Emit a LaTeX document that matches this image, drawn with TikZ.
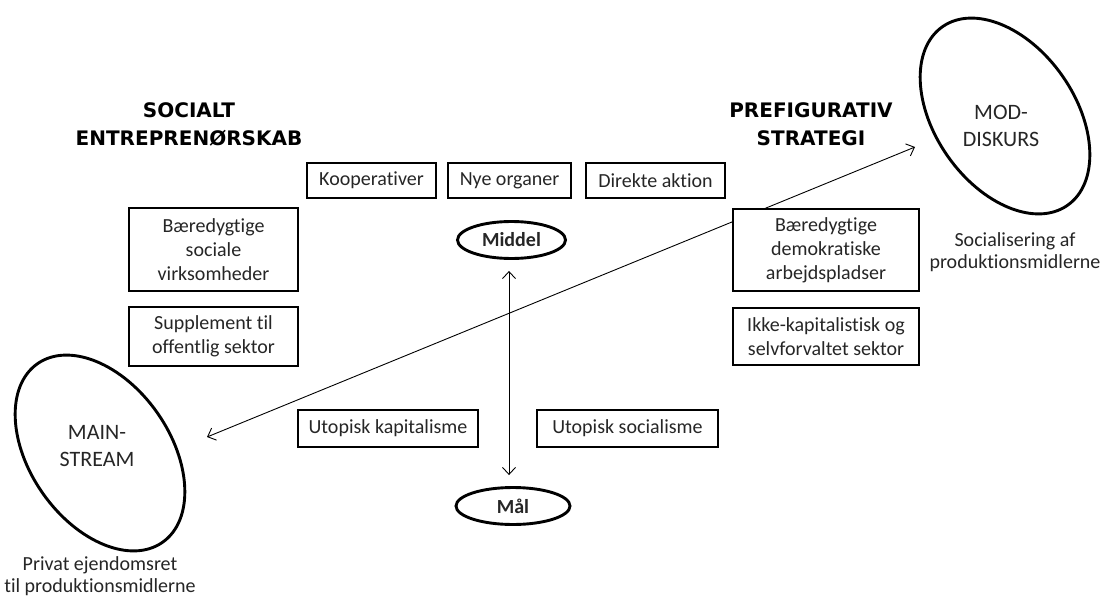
\documentclass[tikz,border=0pt]{standalone}
\usepackage{fontspec}
\usetikzlibrary{shapes.geometric,arrows.meta}
\newfontfamily\calfont{Carlito}[Ligatures={NoCommon}]
\newfontfamily\dvfont{DejaVu Sans}
\definecolor{txt}{HTML}{262626}
\begin{document}
\begin{tikzpicture}[x=1pt,y=-1pt,
  box/.style={draw=black, line width=2.9pt, fill=white, align=center, inner sep=0pt,
    text=txt, font=\calfont\fontsize{20}{24}\selectfont},
  oval/.style={ellipse, draw=black, line width=2.9pt, fill=white, inner sep=0pt,
    text=txt, font=\calfont\bfseries\fontsize{20}{24}\selectfont},
  bigoval/.style={ellipse, draw=black, line width=2.9pt, inner sep=0pt, rotate=35,
    minimum width=140pt, minimum height=218pt},
  bigtxt/.style={align=center, inner sep=0pt, text=txt, font=\calfont\fontsize{22}{27}\selectfont},
  lbl/.style={align=center, inner sep=0pt, text=txt, font=\calfont\fontsize{20}{22}\selectfont},
  head/.style={align=center, inner sep=0pt, text=black, font=\dvfont\bfseries\fontsize{20}{28.5}\selectfont},
  arr/.style={line width=0.9pt, {Straight Barb[length=7pt,width=13pt]}-{Straight Barb[length=7pt,width=13pt]}}
]
\useasboundingbox (0,0) rectangle (1102,599);
\fill[white] (0,0) rectangle (1102,599);

% long diagonal arrow (drawn first, so boxes cover it)
\coordinate (la) at (207,437);
\coordinate (lb) at (915,147);
\draw[arr] (la) -- (lb);

% headings
\node[head] (hsoc) at (189,124.5) {SOCIALT\\ENTREPRENØRSKAB};
\node[head] (hpre) at (811,124) {PREFIGURATIV\\STRATEGI};

% big ellipses
\node[bigoval] (ms) at (100,453) {};
\node[bigtxt] (mst) at (97,446) {MAIN-\\STREAM};
\node[lbl] (mslbl) at (100,576) {Privat ejendomsret\\til produktionsmidlerne};

\node[bigoval] (md) at (1005,116) {};
\node[bigtxt] (mdt) at (1001,126) {MOD-\\DISKURS};
\node[lbl] (mdlbl) at (1015,252) {Socialisering af\\produktionsmidlerne};

% top row boxes
\node[box, minimum width=129, minimum height=35] (koop) at (371.5,180.5) {Kooperativer};
\node[box, minimum width=123, minimum height=35] (nye) at (509.5,180.5) {Nye organer};
\node[box, minimum width=139, minimum height=35] (dir) at (655.5,180.5) {Direkte aktion};

% left boxes
\node[box, minimum width=169, minimum height=83] (bsv) at (213.5,249.5) {Bæredygtige\\sociale\\virksomheder};
\node[box, minimum width=169, minimum height=59] (sup) at (213.5,336.5) {Supplement til\\offentlig sektor};

% right boxes
\node[box, minimum width=186, minimum height=82] (bda) at (826,250) {Bæredygtige\\demokratiske\\arbejdspladser};
\node[box, minimum width=186, minimum height=57] (ikke) at (826,336.5) {Ikke-kapitalistisk og\\selvforvaltet sektor};

% bottom boxes
\node[box, minimum width=180, minimum height=37] (ukap) at (388,428.5) {Utopisk kapitalisme};
\node[box, minimum width=181, minimum height=37] (usoc) at (627.5,428.5) {Utopisk socialisme};

% Middel / Mål
\node[oval, minimum width=108, minimum height=37] (mid) at (511.5,240) {Middel};
\node[oval, minimum width=114, minimum height=37] (maal) at (513,506) {Mål};

\draw[arr, shorten <=11pt, shorten >=11pt] ([xshift=-2.5pt]mid.south) -- ([xshift=-4pt]maal.north);
\end{tikzpicture}
\end{document}
